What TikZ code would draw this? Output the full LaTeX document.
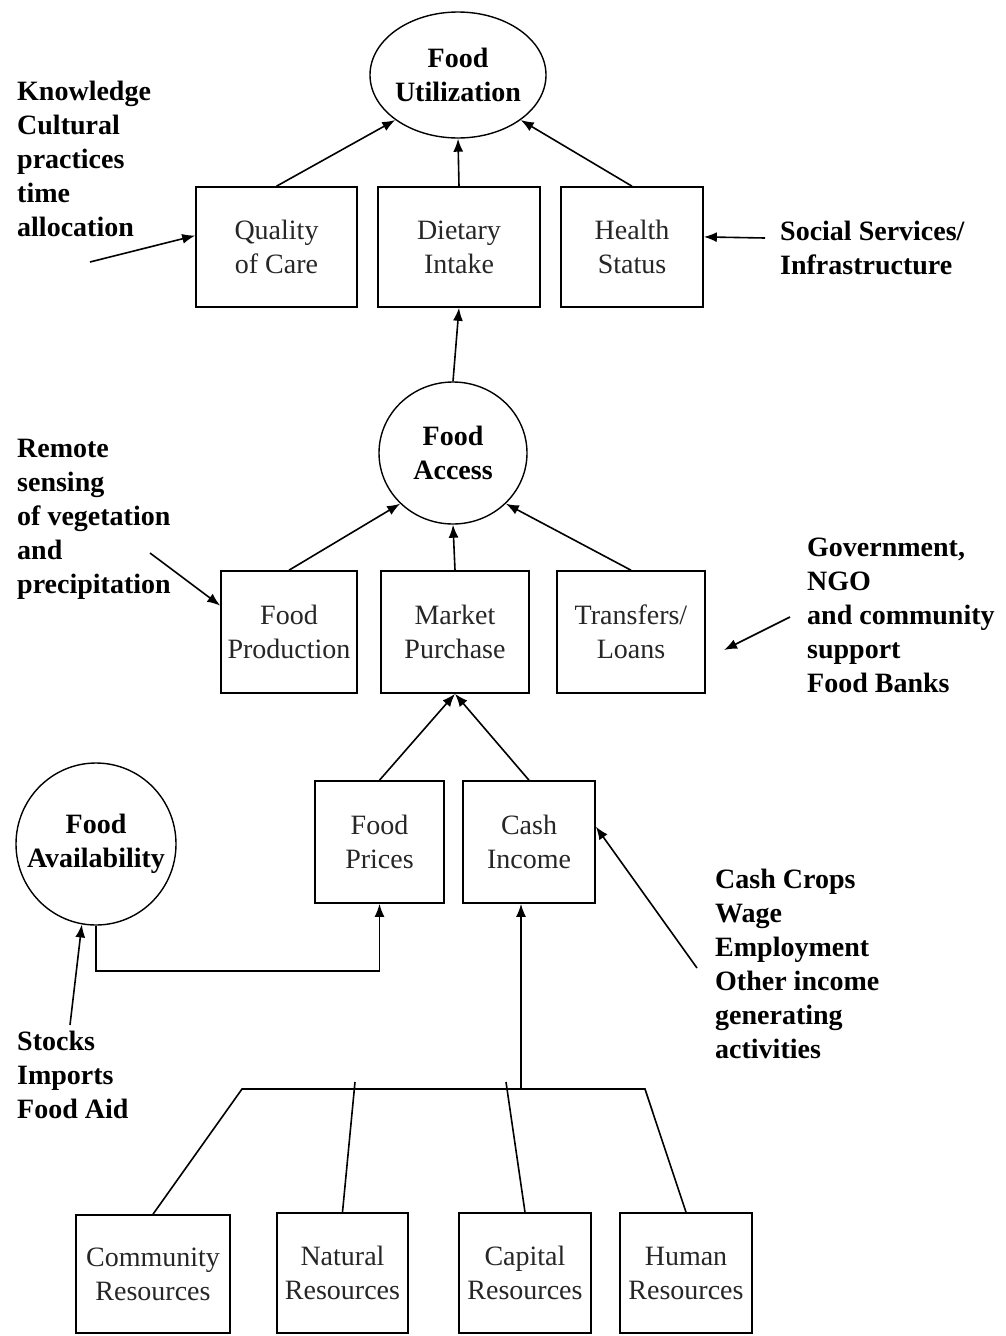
\documentclass[tikz,border=0pt]{standalone}
\usepackage{fontspec}
\setmainfont{Liberation Serif}
\usetikzlibrary{shapes.geometric,arrows.meta}
\begin{document}
\begin{tikzpicture}[x=1pt,y=-1pt,
  every node/.style={font=\fontsize{28}{34}\selectfont},
  box/.style={draw,line width=1.6pt,rectangle,inner sep=0pt,align=center,text=black!85},
  oval/.style={draw,line width=1.4pt,ellipse,inner sep=0pt,align=center,font=\fontsize{28}{34}\selectfont\bfseries},
  lbl/.style={align=left,inner sep=0pt,anchor=west,font=\fontsize{28}{34}\selectfont\bfseries},
  arr/.style={line width=1.6pt,-{Latex[length=13pt,width=10pt]}},
  ln/.style={line width=1.6pt}]
\useasboundingbox (0,0) rectangle (1005,1336);
\fill[white] (0,0) rectangle (1005,1336);
% top level
\node[oval,minimum width=176pt,minimum height=126pt] (FU) at (458,75) {\makebox[0pt]{Food}\\\makebox[0pt]{Utilization}};
\node[box,minimum width=161pt,minimum height=120pt] (Q) at (276.5,247) {Quality\\of Care};
\node[box,minimum width=162pt,minimum height=120pt] (D) at (459,247) {Dietary\\Intake};
\node[box,minimum width=142pt,minimum height=120pt] (H) at (632,247) {Health\\Status};
\node[lbl] (knw) at (17,159) {Knowledge\\Cultural\\practices\\time\\allocation};
\node[lbl] (soc) at (780,248) {Social Services/\\Infrastructure};
\coordinate (knwend) at (90,262);
\coordinate (socend) at (765,238);
\draw[arr] (Q.north) -- (FU.south west);
\draw[arr] (D.north) -- (FU.south);
\draw[arr] (H.north) -- (FU.south east);
\draw[arr] (knwend) -- (Q.172);
\draw[arr] (socend) -- (H.8);
% access level
\node[oval,minimum width=148pt,minimum height=142pt] (FA) at (453,453) {\makebox[0pt]{Food}\\\makebox[0pt]{Access}};
\node[box,minimum width=136pt,minimum height=122pt] (FP) at (289,632) {Food\\Production};
\node[box,minimum width=148pt,minimum height=122pt] (MP) at (455,632) {Market\\Purchase};
\node[box,minimum width=148pt,minimum height=122pt] (TL) at (631,632) {Transfers/\\Loans};
\node[lbl] (rem) at (17,519.5) {Remote\\sensing\\of vegetation\\and\\precipitation};
\node[lbl] (gov) at (807,615.5) {Government,\\NGO\\and community\\support\\Food Banks};
\coordinate (remend) at (150,553);
\coordinate (govstart) at (790,617);
\coordinate (govend) at (724,650);
\draw[arr] (FA.north) -- (D.south);
\draw[arr] (FP.north) -- (FA.south west);
\draw[arr] (MP.north) -- (FA.south);
\draw[arr] (TL.north) -- (FA.south east);
\draw[arr] (remend) -- (FP.159);
\draw[arr] (govstart) -- (govend);
% prices / income level
\node[oval,minimum width=160pt,minimum height=162pt] (FAv) at (96,844) {\makebox[0pt]{Food}\\\makebox[0pt]{Availability}};
\node[box,minimum width=129pt,minimum height=122pt] (FPr) at (379.5,842) {Food\\Prices};
\node[box,minimum width=132pt,minimum height=122pt] (CI) at (529,842) {Cash\\Income};
\node[lbl] (cc) at (715,964) {Cash Crops\\Wage\\Employment\\Other income\\generating\\activities};
\node[lbl] (stk) at (17,1075) {Stocks\\Imports\\Food Aid};
\coordinate (ccend) at (697,968);
\coordinate (stkend) at (70,1025);
\draw[arr] (FPr.north) -- (MP.south);
\draw[arr] (CI.north) -- (MP.south);
\draw[arr] (FAv.south) -- ++(0,45) -| (FPr.south);
\draw[arr] (ccend) -- (CI.13);
\draw[arr] (stkend) -- (FAv.260);
% resources
\node[box,minimum width=154pt,minimum height=118pt] (Com) at (153,1274) {Community\\Resources};
\node[box,minimum width=131pt,minimum height=120pt] (Nat) at (342.5,1273) {Natural\\Resources};
\node[box,minimum width=132pt,minimum height=120pt] (Cap) at (525,1273) {Capital\\Resources};
\node[box,minimum width=132pt,minimum height=120pt] (Hum) at (686,1273) {Human\\Resources};
\coordinate (hub) at (521,1089);
\coordinate (hl) at (242,1089);
\coordinate (hr) at (645,1089);
\coordinate (nt) at (355,1082);
\coordinate (ct) at (506,1082);
\draw[arr] (hub) -- (hub |- CI.south);
\draw[ln,line join=miter] (Com.north) -- (hl) -- (hr) -- (Hum.north);
\draw[ln] (Nat.north) -- (nt);
\draw[ln] (Cap.north) -- (ct);
\end{tikzpicture}
\end{document}
